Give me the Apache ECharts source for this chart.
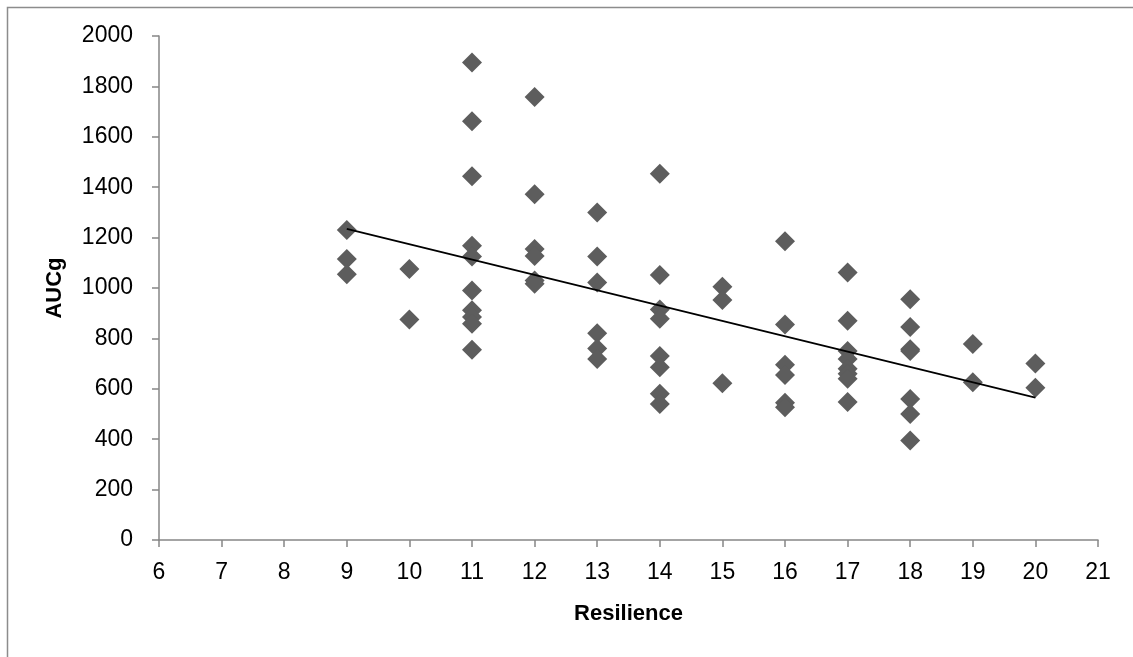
<!DOCTYPE html>
<html>
<head>
<meta charset="utf-8">
<style>html,body{margin:0;padding:0;background:#fff;}#c{width:1133px;height:657px;}</style>
<script src="https://cdn.jsdelivr.net/npm/echarts@6/dist/echarts.min.js"></script>
</head>
<body>
<div id="c"></div>
<script>
// Resilience score per participant
const resilience = [
  9, 9, 9,
  10, 10,
  11, 11, 11, 11, 11, 11, 11, 11, 11, 11,
  12, 12, 12, 12, 12, 12,
  13, 13, 13, 13, 13, 13,
  14, 14, 14, 14, 14, 14, 14, 14,
  15, 15, 15,
  16, 16, 16, 16, 16, 16,
  17, 17, 17, 17, 17, 17, 17, 17,
  18, 18, 18, 18, 18, 18, 18,
  19, 19,
  20, 20
];
// AUCg per participant
const aucg = [
  1230, 1115, 1055,
  1075, 875,
  1895, 1662, 1443, 1168, 1125, 990, 912, 885, 858, 755,
  1758, 1372, 1155, 1127, 1030, 1017,
  1300, 1125, 1022, 820, 760, 718,
  1453, 1052, 915, 878, 730, 686, 580, 540,
  1005, 952, 622,
  1186, 855, 695, 655, 545, 527,
  1062, 870, 750, 718, 680, 660, 640, 548,
  955, 845, 757, 750, 560, 500, 395,
  778, 626,
  700, 604
];
const xTicks = [6,7,8,9,10,11,12,13,14,15,16,17,18,19,20,21];
const yTicks = [0,200,400,600,800,1000,1200,1400,1600,1800,2000];

const points = resilience.map((x, i) => [x, aucg[i]]);

// least-squares linear trend line
const n = points.length;
let sx = 0, sy = 0, sxx = 0, sxy = 0;
points.forEach(p => { sx += p[0]; sy += p[1]; sxx += p[0]*p[0]; sxy += p[0]*p[1]; });
const slope = (n*sxy - sx*sy) / (n*sxx - sx*sx);
const intercept = (sy - slope*sx) / n;
const xMin = Math.min(...resilience), xMax = Math.max(...resilience);
const trend = [[xMin, intercept + slope*xMin], [xMax, intercept + slope*xMax]];

const chart = echarts.init(document.getElementById('c'), null, {renderer: 'canvas'});
const axisGray = '#868686';
const font = '"Liberation Sans", Arial, sans-serif';
chart.setOption({
  animation: false,
  backgroundColor: '#fff',
  graphic: [{
    type: 'rect', silent: true,
    shape: {x: 7.5, y: 7.5, width: 1140, height: 700},
    style: {fill: 'none', stroke: '#8c8c8c', lineWidth: 1.5}
  }],
  grid: {left: 159, right: 35, top: 36, bottom: 117},
  xAxis: {
    type: 'value', min: xTicks[0], max: xTicks[xTicks.length-1], interval: 1,
    name: 'Resilience', nameLocation: 'middle', nameGap: 63,
    nameTextStyle: {fontFamily: font, fontWeight: 'bold', fontSize: 22, color: '#000'},
    axisLine: {show: true, onZero: false, lineStyle: {color: axisGray, width: 1.5}},
    axisTick: {show: true, length: 7, inside: false, lineStyle: {color: axisGray, width: 1.5}},
    axisLabel: {fontFamily: font, fontSize: 23, color: '#000', margin: 21, formatter: v => String(v)},
    splitLine: {show: false}
  },
  yAxis: {
    type: 'value', min: yTicks[0], max: yTicks[yTicks.length-1], interval: 200,
    name: 'AUCg', nameLocation: 'middle', nameGap: 93, nameRotate: 90,
    nameTextStyle: {fontFamily: font, fontWeight: 'bold', fontSize: 22, color: '#000'},
    axisLine: {show: true, onZero: false, lineStyle: {color: axisGray, width: 1.5}},
    axisTick: {show: true, length: 7, inside: false, lineStyle: {color: axisGray, width: 1.5}},
    axisLabel: {fontFamily: font, fontSize: 23, color: '#000', margin: 26, formatter: v => String(v)},
    splitLine: {show: false}
  },
  series: [
    {
      type: 'scatter', data: points, symbol: 'diamond', symbolSize: 20,
      itemStyle: {color: '#5d5d5d', opacity: 1}, z: 2
    },
    {
      type: 'line', data: trend, symbol: 'none', silent: true,
      lineStyle: {color: '#000', width: 1.8}, z: 3
    }
  ]
});
</script>
</body>
</html>
